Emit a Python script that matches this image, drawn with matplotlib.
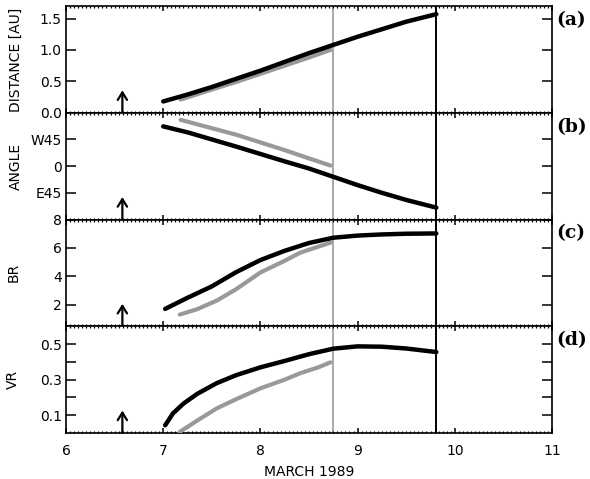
import matplotlib
matplotlib.use("Agg")
import matplotlib.pyplot as plt
from matplotlib.ticker import MultipleLocator, FixedLocator
import matplotlib.transforms as mtransforms

# ---------------- data ----------------
# panel (a) distance [AU]
dist_t_black = [7.0, 7.25, 7.5, 7.75, 8.0, 8.25, 8.5, 8.75, 9.0, 9.25, 9.5, 9.81]
dist_black = [0.18, 0.29, 0.41, 0.54, 0.67, 0.81, 0.95, 1.08, 1.21, 1.33, 1.45, 1.57]
dist_t_gray = [7.18, 7.5, 7.75, 8.0, 8.25, 8.5, 8.72]
dist_gray = [0.21, 0.37, 0.49, 0.62, 0.75, 0.88, 1.00]

# panel (b) angle [deg], W positive
ang_t_black = [7.0, 7.25, 7.5, 7.75, 8.0, 8.25, 8.5, 8.75, 9.0, 9.25, 9.5, 9.81]
ang_black = [67, 57, 45, 33, 20.5, 8, -4, -18, -32, -45, -57, -70]
ang_t_gray = [7.18, 7.5, 7.75, 8.0, 8.25, 8.5, 8.72]
ang_gray = [78, 64, 53, 40, 27, 13, 1]

# panel (c) BR
br_t_black = [7.02, 7.25, 7.5, 7.75, 8.0, 8.25, 8.5, 8.75, 9.0, 9.25, 9.5, 9.81]
br_black = [1.72, 2.5, 3.3, 4.3, 5.15, 5.8, 6.35, 6.72, 6.87, 6.95, 7.0, 7.02]
br_t_gray = [7.17, 7.35, 7.55, 7.75, 8.0, 8.25, 8.41, 8.6, 8.72]
br_gray = [1.32, 1.7, 2.3, 3.1, 4.28, 5.1, 5.67, 6.1, 6.37]

# panel (d) VR
vr_t_black = [7.02, 7.1, 7.21, 7.35, 7.55, 7.75, 8.0, 8.25, 8.5, 8.75, 9.0, 9.25, 9.5, 9.81]
vr_black = [0.043, 0.11, 0.166, 0.22, 0.28, 0.325, 0.369, 0.405, 0.443, 0.474, 0.487, 0.485, 0.475, 0.455]
vr_t_gray = [7.17, 7.35, 7.55, 7.75, 8.0, 8.25, 8.41, 8.6, 8.72]
vr_gray = [0.006, 0.07, 0.138, 0.19, 0.251, 0.30, 0.336, 0.37, 0.397]

vline_gray = 8.75
vline_black = 9.81
arrow_t = 6.58

panel_labels = ["(a)", "(b)", "(c)", "(d)"]
ylabels = ["DISTANCE [AU]", "ANGLE", "BR", "VR"]
ylims = [(0.0, 1.7), (-90, 90), (0.5, 8.0), (0.0, 0.6)]
yticks = [[0.0, 0.5, 1.0, 1.5], [45, 0, -45], [2, 4, 6, 8], [0.1, 0.2, 0.3, 0.4, 0.5]]
yticklabels = [["0.0", "0.5", "1.0", "1.5"], ["W45", "0", "E45"], ["2", "4", "6", "8"],
               ["0.1", "", "0.3", "", "0.5"]]
xticks = [6, 7, 8, 9, 10, 11]
xlabel = "MARCH 1989"

series = [
    (dist_t_black, dist_black, dist_t_gray, dist_gray),
    (ang_t_black, ang_black, ang_t_gray, ang_gray),
    (br_t_black, br_black, br_t_gray, br_gray),
    (vr_t_black, vr_black, vr_t_gray, vr_gray),
]

# ---------------- figure ----------------
fig = plt.figure(figsize=(5.9, 4.79), dpi=100)
gs = fig.add_gridspec(4, 1, left=66/590, right=552/590,
                      bottom=(479-433)/479, top=(479-6)/479, hspace=0)
gray_col = "#999999"
label_x = [-0.088, -0.088, -0.094, -0.094]

for i in range(4):
    ax = fig.add_subplot(gs[i])
    tb, yb, tg, yg = series[i]
    ax.axvline(vline_gray, color="#a8a8a8", lw=1.4, zorder=1)
    ax.axvline(vline_black, color="black", lw=1.4, zorder=1)
    ax.plot(tg, yg, color=gray_col, lw=3.0, solid_capstyle="round",
            solid_joinstyle="round", zorder=3)
    ax.plot(tb, yb, color="black", lw=3.2, solid_capstyle="round",
            solid_joinstyle="round", zorder=4)

    trans = mtransforms.blended_transform_factory(ax.transData, ax.transAxes)
    ax.annotate("", xy=(arrow_t, 0.21), xycoords=trans,
                xytext=(arrow_t, 0.0), textcoords=trans,
                arrowprops=dict(arrowstyle="->,head_length=0.45,head_width=0.28",
                                lw=1.6, color="black", shrinkA=0, shrinkB=0,
                                mutation_scale=12), zorder=5)

    ax.set_xlim(6, 11)
    ax.set_ylim(*ylims[i])
    ax.xaxis.set_major_locator(FixedLocator(xticks))
    ax.xaxis.set_minor_locator(MultipleLocator(1/24))
    ax.yaxis.set_major_locator(FixedLocator(yticks[i]))
    ax.set_yticklabels(yticklabels[i])
    ax.yaxis.set_minor_locator(FixedLocator([]))

    ax.tick_params(axis="x", which="major", direction="in", length=3.6, width=1.1,
                   top=True, bottom=True, labelsize=10, pad=8)
    ax.tick_params(axis="x", which="minor", direction="in", length=1.6, width=0.9,
                   top=True, bottom=True)
    ax.tick_params(axis="y", which="major", direction="in", length=7.2, width=1.1,
                   left=True, right=True, labelsize=10, pad=3)
    if i < 3:
        ax.tick_params(axis="x", labelbottom=False)
    else:
        ax.set_xticklabels([str(v) for v in xticks])
        ax.set_xlabel(xlabel, fontsize=10, labelpad=5)

    for sp in ax.spines.values():
        sp.set_linewidth(1.2)

    ax.set_ylabel(ylabels[i], fontsize=10)
    ax.yaxis.set_label_coords(label_x[i], 0.5)

    ax.text(1.008, 0.869, panel_labels[i], transform=ax.transAxes,
            fontfamily="DejaVu Serif", fontweight="bold", fontsize=13.5,
            ha="left", va="center")

fig.savefig("out.png", dpi=100)
